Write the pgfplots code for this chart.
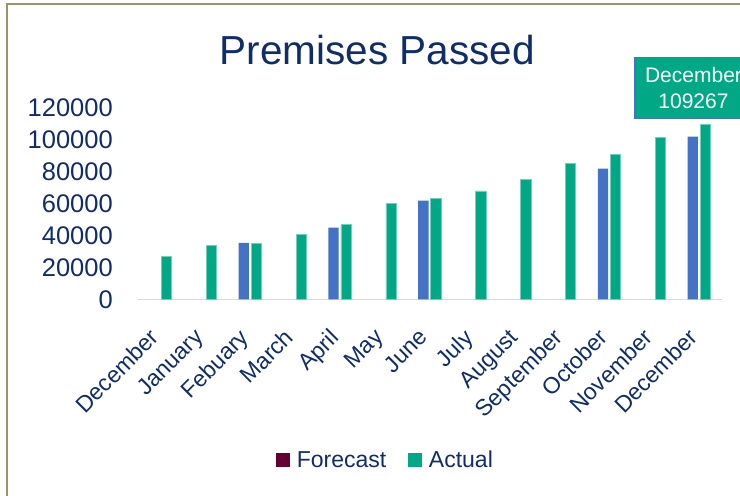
\documentclass[border=0pt]{standalone}
\usepackage{fontspec}
\setmainfont{Liberation Sans}
\usepackage{pgfplots}
\pgfplotsset{compat=1.18}
\definecolor{navy}{HTML}{0F2D69}
\definecolor{actgreen}{HTML}{00A886}
\definecolor{fcblue}{HTML}{4472C4}
\definecolor{maroon}{HTML}{660033}
\definecolor{bordercol}{HTML}{A0916B}
\definecolor{axisgray}{HTML}{D9D9D9}
\begin{document}
\begin{tikzpicture}[x=1pt,y=1pt]
\useasboundingbox (0,0) rectangle (740,496);
\clip (0,0) rectangle (740,496);
\fill[white] (0,0) rectangle (740,496);
\draw[bordercol, line width=1.5pt] (7,-20) -- (7,492) -- (800,492);
\node[anchor=base, text=navy, font=\fontsize{40.5}{48}\selectfont, inner sep=0pt] at (377.5,431) {Premises Passed};
\begin{axis}[
  at={(138pt,196.7pt)}, anchor=south west,
  scale only axis, width=583.7pt, height=192pt,
  xmin=-0.5, xmax=12.5, ymin=0, ymax=120000,
  ybar, bar width=10.3pt,
  axis x line*=bottom, axis y line*=left,
  x axis line style={draw=axisgray, line width=1.5pt, -},
  y axis line style={draw=none, -},
  major tick length=0pt,
  xtick={0,...,12},
  xticklabels={December,January,Febuary,March,April,May,June,July,August,September,October,November,December},
  ytick={0,20000,40000,60000,80000,100000,120000},
  scaled y ticks=false,
  /pgf/number format/.cd, fixed, 1000 sep={}, assume math mode=true, /pgfplots/.cd,
  tick label style={text=navy},
  yticklabel style={font=\fontsize{25.5}{30}\selectfont, anchor=east, inner sep=0pt, xshift=-25pt},
  xticklabel style={font=\fontsize{23}{27}\selectfont, inner sep=0pt, xshift=-12pt, yshift=-28pt, rotate=45, anchor=north east},
  legend style={at={(0.424,-0.837)}, anchor=center, draw=none, fill=none,
    font=\fontsize{23}{28}\selectfont, text=navy,
    /tikz/every even column/.append style={column sep=20pt}},
  legend columns=2,
]
\addplot[fill=fcblue, draw=none, bar shift=-6.5pt, forget plot] coordinates {
  (2,35200) (4,44800) (6,61600) (10,81600) (12,101600)};
\addplot[fill=actgreen, draw=actgreen!55!white, line width=0.5pt, bar shift=6pt, forget plot] coordinates {
  (0,26600) (1,33900) (2,35000) (3,40600) (4,46600) (5,60000) (6,63100)
  (7,67700) (8,75000) (9,84800) (10,90800) (11,101000) (12,109267)};
\addlegendimage{legend image code/.code={\path[draw=none,fill=none] (0pt,0pt) -- (18.7pt,0pt);\fill[maroon, draw=none] (0pt,-6.5pt) rectangle (13.7pt,7.2pt);}}
\addlegendimage{legend image code/.code={\path[draw=none,fill=none] (0pt,0pt) -- (18.7pt,0pt);\fill[actgreen, draw=none] (0pt,-6.5pt) rectangle (13.7pt,7.2pt);}}
\legend{Forecast,Actual}
\end{axis}
\node[fill=actgreen, draw=fcblue, line width=1.5pt, minimum width=117pt, minimum height=61pt,
  align=center, text=white, font=\fontsize{21}{25.5}\selectfont, inner sep=0pt]
  at (693.5,408.2) {December\\109267};
\end{tikzpicture}
\end{document}
